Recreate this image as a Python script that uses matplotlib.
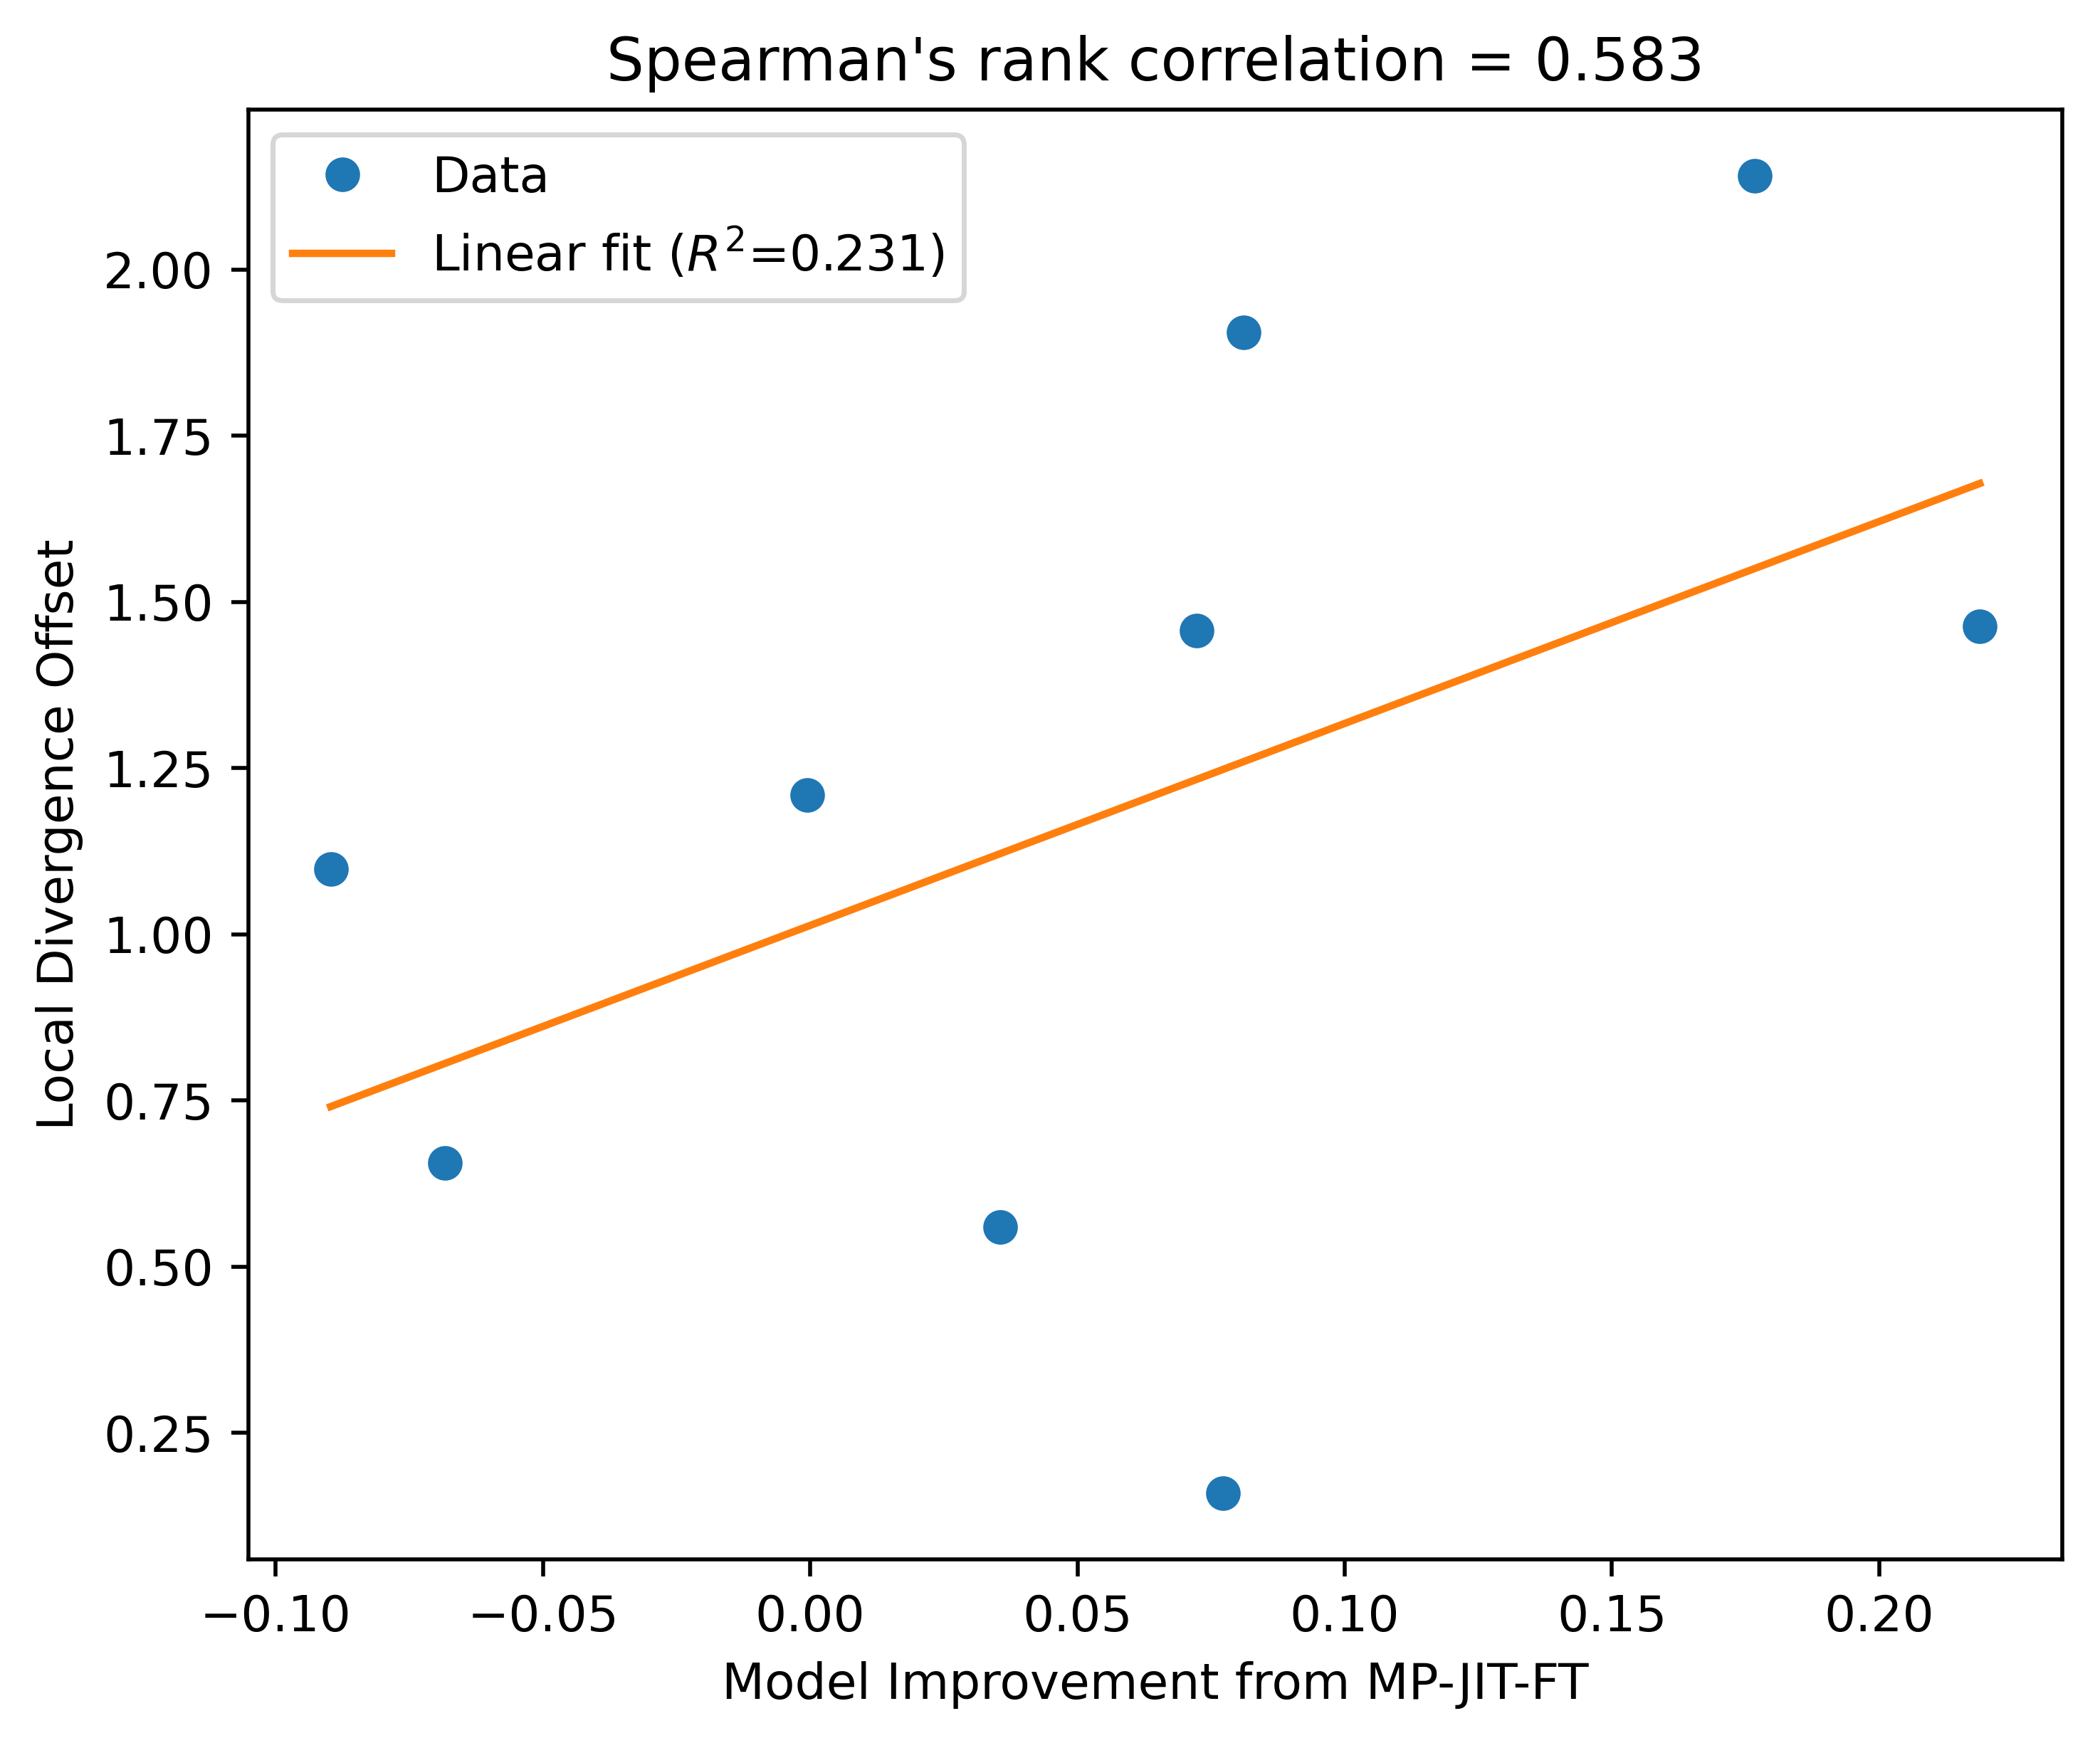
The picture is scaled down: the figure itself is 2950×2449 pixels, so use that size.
import numpy as np
import matplotlib
matplotlib.use("Agg")
import matplotlib.pyplot as plt

# values
improvement = [-0.0897, -0.0683, -0.0005, 0.0355, 0.0723, 0.0772, 0.0811, 0.1767, 0.2188]
divergence = [1.098, 0.656, 1.209, 0.559, 1.457, 0.159, 1.905, 2.141, 1.463]

title = "Spearman's rank correlation = 0.583"
xlabel = "Model Improvement from MP-JIT-FT"
ylabel = "Local Divergence Offset"
fit_label = "Linear fit ($R^2$=0.231)"

x = np.array(improvement)
y = np.array(divergence)

slope, intercept = np.polyfit(x, y, 1)

fig, ax = plt.subplots(figsize=(5.9, 4.898), dpi=500)
fig.subplots_adjust(left=0.1182, right=0.982, top=0.937, bottom=0.1055)

ax.plot(x, y, "o", color="#1f77b4", label="Data")
xs = np.linspace(x.min(), x.max(), 100)
ax.plot(xs, slope * xs + intercept, color="#ff7f0e", label=fit_label)

ax.set_title(title)
ax.set_xlabel(xlabel)
ax.set_ylabel(ylabel)
ax.legend(loc="upper left")

fig.savefig("out.png", dpi=500)
